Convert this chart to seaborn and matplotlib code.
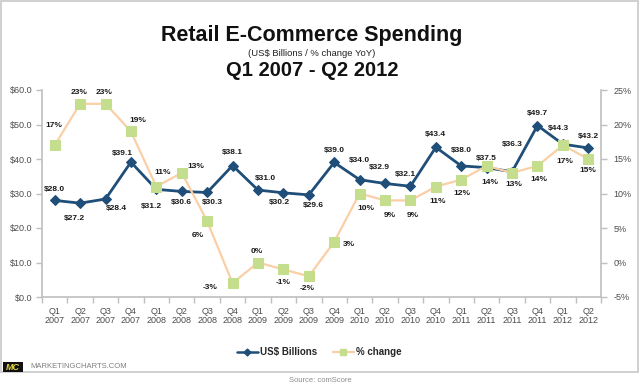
import pandas as pd
import matplotlib
matplotlib.use('Agg')
import matplotlib.pyplot as plt
import seaborn as sns
from matplotlib.patches import Rectangle
from matplotlib.lines import Line2D
from matplotlib.ticker import FixedLocator

quarters = ['Q1\n2007', 'Q2\n2007', 'Q3\n2007', 'Q4\n2007',
            'Q1\n2008', 'Q2\n2008', 'Q3\n2008', 'Q4\n2008',
            'Q1\n2009', 'Q2\n2009', 'Q3\n2009', 'Q4\n2009',
            'Q1\n2010', 'Q2\n2010', 'Q3\n2010', 'Q4\n2010',
            'Q1\n2011', 'Q2\n2011', 'Q3\n2011', 'Q4\n2011',
            'Q1\n2012', 'Q2\n2012']
usd_billions = [28.0, 27.2, 28.4, 39.1, 31.2, 30.6, 30.3, 38.1, 31.0, 30.2, 29.6,
                39.0, 34.0, 32.9, 32.1, 43.4, 38.0, 37.5, 36.3, 49.7, 44.3, 43.2]
pct_change = [17, 23, 23, 19, 11, 13, 6, -3, 0, -1, -2,
              3, 10, 9, 9, 11, 12, 14, 13, 14, 17, 15]

# label offsets in pixels (dx right, dy up)
usd_dx = [0, -6, 11, -9, -5, 0, 5, 0, 7, -4, 5, 0, 0, -6, -5, 0, 0, 0, 0, 0, -4, 0]
usd_dy = [11, -15, -9, 9, -17, -11, -10, 13, 12, -10, -11, 12, 19, 16, 12, 13, 15, 9, 27, 12, 16, 11]
pct_dx = [-1, -1, -1, 7, 6, 14, -9, -22, -1, 0, -2, 15, 6, 5, 2, 2, 1, 3, 2, 1, 2, 0]
pct_dy = [20, 11, 11, 11, 14, 6, -14, -4, 11, -13, -12, -3, -15, -15, -15, -15, -14, -17, -12, -14, -16, -12]

sns.set_style('white')
plt.rcParams['font.family'] = ['Liberation Sans', 'DejaVu Sans']

df = pd.DataFrame({'idx': range(len(quarters)), 'usd': usd_billions, 'pct': pct_change})

W, H = 640, 386
fig = plt.figure(figsize=(6.4, 3.86), dpi=100)
ax = fig.add_axes([42 / W, 1 - 297 / H, 559 / W, 207 / H])
ax2 = ax.twinx()

blue = '#1F4E79'
peach = '#FBCFA6'
green = '#C4DE8E'
axis_grey = '#BFBFBF'
text_grey = '#4D4D4D'

sns.lineplot(data=df, x='idx', y='usd', ax=ax, color=blue, lw=2, marker='D',
             markersize=5, markeredgecolor=blue, markerfacecolor=blue)
sns.lineplot(data=df, x='idx', y='pct', ax=ax2, color=peach, lw=1.6, marker='s',
             markersize=6.5, markeredgecolor=green, markerfacecolor=green)

ax.set_xlim(-0.5, len(quarters) - 0.5)
ax.set_ylim(0, 60)
ax2.set_ylim(-5, 25)
ax.set_yticks(range(0, 61, 10))
ax.set_yticklabels(['${:.1f}'.format(v) for v in range(0, 61, 10)])
ax2.set_yticks(range(-5, 26, 5))
ax2.set_yticklabels(['{}%'.format(v) for v in range(-5, 26, 5)])
ax.set_xticks(range(len(quarters)))
ax.set_xticklabels(quarters)
ax.xaxis.set_minor_locator(FixedLocator([k - 0.5 for k in range(len(quarters) + 1)]))
ax.set_xlabel('')
ax.set_ylabel('')
ax2.set_ylabel('')

ax.tick_params(axis='x', which='major', length=0, pad=7, labelsize=6.5, labelcolor=text_grey)
ax.tick_params(axis='x', which='minor', length=4, width=1, color=axis_grey, direction='out', bottom=True)
ax.tick_params(axis='y', length=4, width=1, color=axis_grey, direction='out', left=True,
               labelsize=6.5, labelcolor=text_grey, pad=3)
ax2.tick_params(axis='y', length=4, width=1, color=axis_grey, direction='out', right=True,
                labelsize=6.5, labelcolor=text_grey, pad=5)
for lbl in ax.get_xticklabels():
    lbl.set_linespacing(1.1)

for a in (ax, ax2):
    for s in a.spines.values():
        s.set_visible(False)
ax.spines['left'].set_visible(True)
ax.spines['bottom'].set_visible(True)
ax2.spines['right'].set_visible(True)
for s in (ax.spines['left'], ax.spines['bottom'], ax2.spines['right']):
    s.set_color(axis_grey)
    s.set_linewidth(1.2)

for i, v in enumerate(usd_billions):
    ax.annotate('${:.1f}'.format(v), (i, v), xytext=(usd_dx[i], usd_dy[i]),
                textcoords='offset pixels', ha='center', va='center',
                fontsize=6, fontweight='bold', color='#1A1A1A')
for i, v in enumerate(pct_change):
    ax2.annotate('{}%'.format(v), (i, v), xytext=(pct_dx[i], pct_dy[i]),
                 textcoords='offset pixels', ha='center', va='center',
                 fontsize=6, fontweight='bold', color='#1A1A1A')

# titles
fig.text(312 / W, 1 - 35 / H, 'Retail E-Commerce Spending', ha='center', va='center',
         fontsize=15.5, fontweight='bold', color='#111111')
fig.text(312 / W, 1 - 54 / H, '(US$ Billions / % change YoY)', ha='center', va='center',
         fontsize=6.8, color='#222222')
fig.text(312 / W, 1 - 70 / H, 'Q1 2007 - Q2 2012', ha='center', va='center',
         fontsize=14.5, fontweight='bold', color='#111111')

# legend
handles = [Line2D([], [], color=blue, lw=1.8, marker='D', markersize=3.5),
           Line2D([], [], color=peach, lw=1.6, marker='s', markersize=4,
                  markerfacecolor=green, markeredgecolor=green)]
leg = fig.legend(handles, ['US$ Billions', '% change'], loc='center',
                 bbox_to_anchor=(319 / W, 1 - 352 / H), ncol=2, frameon=False,
                 prop={'size': 7, 'weight': 'bold'}, handlelength=2.2,
                 handletextpad=0.2, columnspacing=1.6)

# frame, logo, source
fig.patches.append(Rectangle((1 / W, 1 - 372 / H), 637 / W, 371 / H, transform=fig.transFigure,
                             fill=False, edgecolor='#C8C8C8', lw=1.2))
fig.patches.append(Rectangle((3 / W, 1 - 372 / H), 20 / W, 10 / H, transform=fig.transFigure,
                             facecolor='#111111', edgecolor='none'))
fig.text(13 / W, 1 - 367 / H, 'MC', ha='center', va='center', fontsize=6.5,
         fontweight='bold', style='italic', color='#E8D83A')
fig.text(30 / W, 1 - 367 / H, 'MARKETINGCHARTS.COM', ha='left', va='center',
         fontsize=5.5, color='#7F7F7F')
fig.text(320 / W, 1 - 380 / H, 'Source: comScore', ha='center', va='center',
         fontsize=5.5, color='#8C8C8C')

fig.savefig('out.png', dpi=100)
